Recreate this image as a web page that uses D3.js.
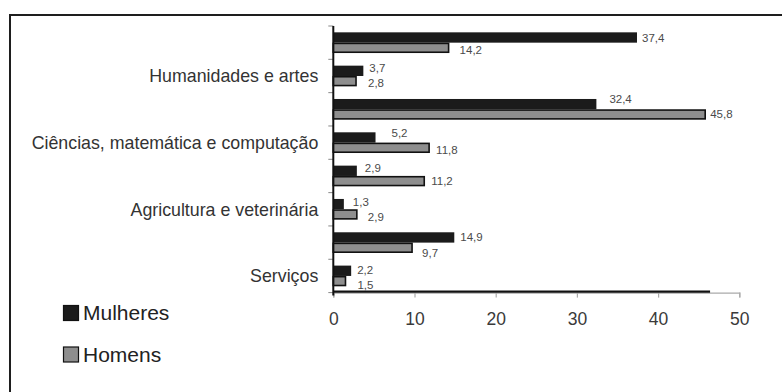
<!DOCTYPE html>
<html>
<head>
<meta charset="utf-8">
<script src="https://cdn.jsdelivr.net/npm/d3@7"></script>
<style>
  html, body { margin: 0; padding: 0; background: #fff; }
  svg { display: block; font-family: "Liberation Sans", Arial, sans-serif; }
</style>
</head>
<body>
<svg id="chart" width="782" height="392"></svg>
<script>
// Area labels (only every other band carries a visible label)
const categories = ["c1", "c2", "c3", "c4", "c5", "c6", "c7", "c8"];
const categoryLabels = ["", "Humanidades e artes", "", "Ciências, matemática e computação",
                        "", "Agricultura e veterinária", "", "Serviços"];
const seriesNames = ["Mulheres", "Homens"];
const mulheres = [37.4, 3.7, 32.4, 5.2, 2.9, 1.3, 14.9, 2.2];
const homens   = [14.2, 2.8, 45.8, 11.8, 11.2, 2.9, 9.7, 1.5];
const xTicks = [0, 10, 20, 30, 40, 50];

// hand-placed offsets of the value labels, [dx, dy] in pixels
const nudgeMulheres = [[5, 0], [6, -2.5], [13, -5], [16, -5], [8, -3], [9, -2], [6, 0], [6, -1]];
const nudgeHomens   = [[11, 2], [12, 2], [5, 0], [7, 2], [7, 0], [11, 2.5], [10, 5], [12, 4]];

const colors = { Mulheres: "#1b1b1b", Homens: "#8e8e8e" };

const svg = d3.select("#chart");

// outer frame
svg.append("rect")
  .attr("x", 10).attr("y", 15)
  .attr("width", 800).attr("height", 400)
  .attr("fill", "none").attr("stroke", "#1e1e1e").attr("stroke-width", 2);

const plot = { left: 333.3, right: 739.3, top: 26, bottom: 292.6 };

const x = d3.scaleLinear().domain([0, 50]).range([plot.left, plot.right]);
const y = d3.scaleBand().domain(categories).range([plot.top, plot.bottom])
  .paddingInner(0.38).paddingOuter(0.19);
const ySub = d3.scaleBand().domain(seriesNames).range([0, y.bandwidth()]);

const step = y.step();
const bandTop = i => plot.top + i * step;

// y axis ticks at band boundaries
const g = svg.append("g");
d3.range(categories.length + 1).forEach(i => {
  g.append("line")
    .attr("x1", plot.left - 5).attr("x2", plot.left)
    .attr("y1", bandTop(i)).attr("y2", bandTop(i))
    .attr("stroke", "#888").attr("stroke-width", 1);
});

// x axis: thin grey line with ticks
const xAxis = svg.append("g")
  .attr("transform", `translate(0,${plot.bottom})`)
  .call(d3.axisBottom(x).tickValues(xTicks).tickSize(5).tickFormat(d3.format("d")));
xAxis.select(".domain").attr("stroke", "#aaa").attr("stroke-width", 1.2);
xAxis.selectAll(".tick line").attr("stroke", "#aaa").attr("stroke-width", 1.2);
xAxis.selectAll(".tick text")
  .attr("y", 20).attr("dy", "0.71em")
  .attr("fill", "#3a3a3a")
  .style("font-size", "17.5px")
  .style("font-family", "'Liberation Sans', Arial, sans-serif");

// heavy baseline drawn over the lower part of the plot
svg.append("line")
  .attr("x1", x(0)).attr("x2", x(46.4))
  .attr("y1", plot.bottom - 1).attr("y2", plot.bottom - 1)
  .attr("stroke", "#111").attr("stroke-width", 2.2);

// bars
const rows = categories.map((c, i) => ({
  cat: c,
  values: [
    { key: "Mulheres", v: mulheres[i], nudge: nudgeMulheres[i] },
    { key: "Homens", v: homens[i], nudge: nudgeHomens[i] }
  ]
}));

const groups = svg.append("g").selectAll("g").data(rows).join("g")
  .attr("transform", d => `translate(0,${y(d.cat)})`);

groups.selectAll("rect").data(d => d.values).join("rect")
  .attr("x", x(0))
  .attr("y", d => ySub(d.key) + (d.key === "Homens" ? 0.75 : 0))
  .attr("width", d => x(d.v) - x(0))
  .attr("height", d => ySub.bandwidth() - (d.key === "Homens" ? 1.5 : 0))
  .attr("fill", d => colors[d.key])
  .attr("stroke", d => d.key === "Homens" ? "#111" : "none")
  .attr("stroke-width", 1.6);

// value labels, decimal comma
const fmt = v => d3.format(".1f")(v).replace(".", ",");
groups.selectAll("text").data(d => d.values).join("text")
  .attr("x", d => x(d.v) + d.nudge[0])
  .attr("y", d => ySub(d.key) + ySub.bandwidth() / 2 + d.nudge[1])
  .attr("dy", "0.35em")
  .attr("fill", "#4a4a4a")
  .style("font-size", "11.5px")
  .text(d => fmt(d.v));

// y axis line
svg.append("line")
  .attr("x1", plot.left).attr("x2", plot.left)
  .attr("y1", plot.top).attr("y2", plot.bottom + 3)
  .attr("stroke", "#111").attr("stroke-width", 2);

// category labels
svg.append("g").selectAll("text").data(categories).join("text")
  .attr("x", plot.left - 15)
  .attr("y", d => y(d) + y.bandwidth() / 2)
  .attr("dy", "0.35em")
  .attr("text-anchor", "end")
  .attr("fill", "#333")
  .style("font-size", "17.8px")
  .text((d, i) => categoryLabels[i]);

// legend
const legend = svg.append("g").selectAll("g").data(seriesNames).join("g")
  .attr("transform", (d, i) => `translate(63,${305 + i * 41.5})`);
legend.append("rect")
  .attr("x", 0.5).attr("y", 0.5)
  .attr("width", 15).attr("height", 15)
  .attr("fill", d => colors[d])
  .attr("stroke", "#111").attr("stroke-width", 1.2);
legend.append("text")
  .attr("x", 20).attr("y", 15)
  .attr("fill", "#222")
  .style("font-size", "21px")
  .text(d => d);
</script>
</body>
</html>
